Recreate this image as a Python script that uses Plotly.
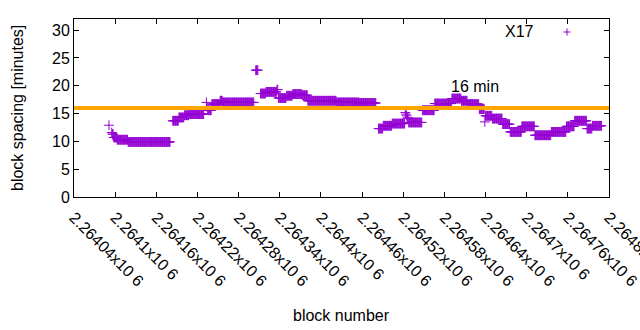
import plotly.graph_objects as go

# ---- data ----
BASE_BLOCK = 2264040
# run-length segments: block offsets (inclusive) and block spacing in minutes
seg_first = [51, 55, 56, 58, 63, 79, 144, 153, 161, 168, 193, 194, 195, 201, 213, 217,
             265, 272, 280, 296, 298, 310, 319, 333, 341, 383, 416,
             444, 451, 464, 483, 484, 485, 486, 488, 508, 526, 551, 565, 574, 591,
             599, 600, 610, 625, 636, 653, 672, 696, 718, 730, 748, 756]
seg_last = [51, 55, 57, 62, 78, 140, 152, 160, 167, 189, 193, 194, 200, 212, 216, 262,
            268, 279, 295, 297, 309, 318, 332, 340, 382, 415, 440,
            450, 463, 482, 483, 484, 485, 487, 507, 525, 550, 564, 573, 590, 598,
            599, 609, 624, 635, 652, 671, 695, 717, 729, 747, 755, 769]
seg_value = [12.9, 11.6, 11.3, 10.7, 10.3, 9.9, 13.7, 14.3, 14.7, 14.9, 17.0, 16.2, 15.6, 16.7, 17.3, 17.0,
             22.8, 18.6, 18.9, 19.3, 17.8, 18.2, 18.5, 18.3, 17.3, 17.0, 16.9,
             12.3, 12.8, 13.2, 15.2, 14.9, 14.6, 14.2, 13.4, 15.6, 16.8, 17.7, 17.3, 16.7, 15.8,
             13.5, 14.6, 14.1, 13.1, 11.7, 12.7, 11.1, 11.7, 12.7, 13.7, 12.3, 12.8]

target_minutes = 16
x_tick_values = [2264040 + 60 * i for i in range(14)]
x_tick_labels = ["2.26404x10 6", "2.2641x10 6", "2.26416x10 6", "2.26422x10 6",
                 "2.26428x10 6", "2.26434x10 6", "2.2644x10 6", "2.26446x10 6",
                 "2.26452x10 6", "2.26458x10 6", "2.26464x10 6", "2.2647x10 6",
                 "2.26476x10 6", "2.26482x10 6"]
y_tick_values = [0, 5, 10, 15, 20, 25, 30]
x_range = [2264040, 2264820]
y_range = [0, 32]

blocks, spacing = [], []
for a, b, v in zip(seg_first, seg_last, seg_value):
    for off in range(a, b + 1):
        blocks.append(BASE_BLOCK + off)
        spacing.append(v)

PURPLE = "#9400D3"
ORANGE = "#FFA500"
FONT = "Liberation Sans, Arial, sans-serif"
FS = 16

fig = go.Figure()
fig.add_trace(go.Scatter(
    x=blocks, y=spacing, mode="markers", name="X17",
    marker=dict(symbol="cross-thin", size=7, line=dict(color=PURPLE, width=1), color=PURPLE),
    showlegend=False, cliponaxis=False,
))
fig.add_trace(go.Scatter(
    x=x_range, y=[target_minutes, target_minutes], mode="lines",
    line=dict(color=ORANGE, width=4), showlegend=False, cliponaxis=False,
))

axis_common = dict(
    showline=True, linecolor="black", linewidth=1, mirror="ticks",
    ticks="inside", ticklen=5, tickcolor="black", showgrid=False, zeroline=False,
    automargin=False, ticklabeloverflow="allow",
    tickfont=dict(family=FONT, size=FS, color="black"),
)
fig.update_xaxes(range=x_range, tickvals=x_tick_values, ticktext=x_tick_labels,
                 tickangle=45, ticklabelstandoff=4, **axis_common)
fig.update_yaxes(range=y_range, tickvals=y_tick_values, **axis_common)

fig.add_annotation(text="16 min", x=2264586, y=19.9, xref="x", yref="y",
                   xanchor="left", yanchor="middle", showarrow=False,
                   font=dict(family=FONT, size=FS, color="black"))
# legend text
fig.add_annotation(text="X17", x=(519 - 74) / 535, y=(197 - 31) / 178, xref="paper", yref="paper",
                   xanchor="center", yanchor="middle", showarrow=False,
                   font=dict(family=FONT, size=FS, color="black"))
fig.add_annotation(text="block number", x=0.5, y=0, xref="paper", yref="paper",
                   xanchor="center", yanchor="middle", yshift=-118, showarrow=False,
                   font=dict(family=FONT, size=FS, color="black"))
fig.add_annotation(text="block spacing [minutes]", x=0, y=0.5, xref="paper", yref="paper",
                   xanchor="center", yanchor="middle", xshift=-57, textangle=-90, showarrow=False,
                   font=dict(family=FONT, size=FS, color="black"))

fig.update_layout(
    width=640, height=330,
    margin=dict(l=74, r=31, t=19, b=133, autoexpand=False),
    plot_bgcolor="white", paper_bgcolor="white",
)
# legend sample "+"
fig.add_shape(type="line", xref="paper", yref="paper",
              x0=(563.5 - 74) / 535, x1=(570.5 - 74) / 535,
              y0=(197 - 32) / 178, y1=(197 - 32) / 178, line=dict(color=PURPLE, width=1))
fig.add_shape(type="line", xref="paper", yref="paper",
              x0=(567 - 74) / 535, x1=(567 - 74) / 535,
              y0=(197 - 28.5) / 178, y1=(197 - 35.5) / 178, line=dict(color=PURPLE, width=1))

fig.write_html("out.html")
